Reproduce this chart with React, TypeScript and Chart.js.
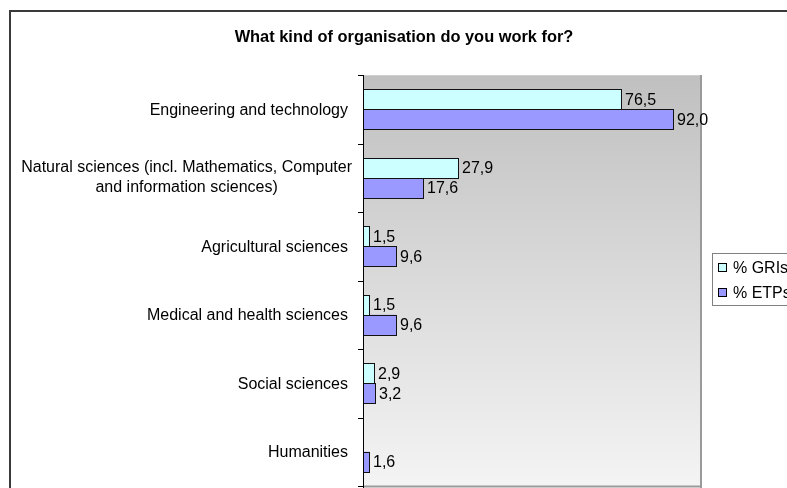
import React, { useEffect, useRef } from "react";
import { Chart, registerables } from "chart.js";

Chart.register(...registerables);

const TITLE = "What kind of organisation do you work for?";
const categories: (string | string[])[] = [
  "Engineering and technology",
  ["Natural sciences (incl. Mathematics, Computer", "and information sciences)"],
  "Agricultural sciences",
  "Medical and health sciences",
  "Social sciences",
  "Humanities",
];
const seriesNames = ["% GRIs", "% ETPs"];
const griValues = [76.5, 27.9, 1.5, 1.5, 2.9, 0];
const etpValues = [92.0, 17.6, 9.6, 9.6, 3.2, 1.6];
const seriesColors = ["#ccffff", "#9999ff"];
const xMin = 0;
const xMax = 100;

const FONT = '"Liberation Sans", Arial, sans-serif';

const decorPlugin = {
  id: "decor",
  beforeDraw(chart: any) {
    const ctx = chart.ctx;
    const { left, right, top, bottom } = chart.chartArea;
    ctx.save();
    ctx.fillStyle = "#ffffff";
    ctx.fillRect(0, 0, chart.width, chart.height);
    // outer chart border
    ctx.strokeStyle = "#3a3a3a";
    ctx.lineWidth = 2;
    ctx.strokeRect(10, 11, 1200, 1200);
    // plot gradient
    const g = ctx.createLinearGradient(0, top, 0, bottom);
    g.addColorStop(0, "#c0c0c0");
    g.addColorStop(1, "#f4f4f4");
    ctx.fillStyle = g;
    ctx.fillRect(left, top, right - left, bottom - top);
    // top border
    ctx.strokeStyle = "#cfcfcf";
    ctx.lineWidth = 1;
    ctx.beginPath();
    ctx.moveTo(left, top + 0.5);
    ctx.lineTo(right, top + 0.5);
    ctx.stroke();
    // right & bottom border
    ctx.strokeStyle = "#9a9a9a";
    ctx.lineWidth = 2;
    ctx.beginPath();
    ctx.moveTo(right + 1, top);
    ctx.lineTo(right + 1, bottom + 2);
    ctx.moveTo(left, bottom + 0.5);
    ctx.lineTo(right + 2, bottom + 0.5);
    ctx.stroke();
    ctx.restore();
  },
  afterDatasetsDraw(chart: any) {
    const ctx = chart.ctx;
    const { left, right, top, bottom } = chart.chartArea;
    const yScale = chart.scales.y;
    const n = categories.length;
    const band = (bottom - top) / n;
    ctx.save();

    // crisp bar outlines on the library's bar elements
    ctx.strokeStyle = "#111111";
    ctx.lineWidth = 1;
    chart.data.datasets.forEach((ds: any, di: number) => {
      const meta = chart.getDatasetMeta(di);
      meta.data.forEach((bar: any, i: number) => {
        const v = ds.data[i];
        if (!v) return;
        const p = bar.getProps(["x", "y", "base", "height"], true);
        const x0 = Math.round(Math.min(p.base, p.x)) - 1;
        const x1 = Math.round(Math.max(p.base, p.x));
        const y0 = Math.round(p.y - p.height / 2);
        const y1 = Math.round(p.y + p.height / 2);
        ctx.fillStyle = ds.backgroundColor;
        ctx.fillRect(x0, y0, x1 - x0, y1 - y0);
        ctx.strokeRect(x0 + 0.5, y0 + 0.5, x1 - x0, y1 - y0);
      });
    });

    // axis line and ticks
    ctx.strokeStyle = "#000000";
    ctx.lineWidth = 1;
    ctx.beginPath();
    ctx.moveTo(left - 0.5, top);
    ctx.lineTo(left - 0.5, bottom + 2);
    for (let k = 0; k <= n; k++) {
      const y = Math.round(top + k * band) + 0.5;
      ctx.moveTo(left - 6, y);
      ctx.lineTo(left - 0.5, y);
    }
    ctx.stroke();

    // category labels
    ctx.fillStyle = "#000000";
    ctx.font = "16px " + FONT;
    ctx.textBaseline = "middle";
    categories.forEach((c, i) => {
      const cy = yScale.getPixelForValue(i);
      if (Array.isArray(c)) {
        const lh = 20;
        const widths = c.map((s) => ctx.measureText(s).width);
        const w = Math.max(...widths);
        const cx = 352 - w / 2;
        ctx.textAlign = "center";
        c.forEach((s, j) => {
          ctx.fillText(s, cx, cy + (j - (c.length - 1) / 2) * lh);
        });
      } else {
        ctx.textAlign = "right";
        ctx.fillText(c, 348, cy + 1);
      }
    });

    // data labels
    ctx.textAlign = "left";
    chart.data.datasets.forEach((ds: any, di: number) => {
      const meta = chart.getDatasetMeta(di);
      meta.data.forEach((bar: any, i: number) => {
        const v = ds.data[i];
        if (!v) return;
        const txt = v.toFixed(1).replace(".", ",");
        ctx.fillText(txt, Math.round(bar.x) + 4, bar.y + 1);
      });
    });

    // title
    ctx.font = "bold 16.4px " + FONT;
    ctx.textAlign = "center";
    ctx.fillText(TITLE, 404, 37.5);

    // legend
    const lx = 712.5;
    const ly = 253.5;
    ctx.fillStyle = "#ffffff";
    ctx.fillRect(lx, ly, 200, 52);
    ctx.strokeStyle = "#808080";
    ctx.lineWidth = 1;
    ctx.strokeRect(lx, ly, 200, 52);
    ctx.font = "16px " + FONT;
    ctx.textAlign = "left";
    seriesNames.forEach((name, i) => {
      const cy = 268 + i * 25;
      ctx.fillStyle = seriesColors[i];
      ctx.fillRect(718.5, cy - 4.5, 8, 8);
      ctx.strokeStyle = "#000000";
      ctx.strokeRect(718.5, cy - 4.5, 8, 8);
      ctx.fillStyle = "#000000";
      ctx.fillText(name, 733, cy + 1);
    });
    ctx.restore();
  },
};

export default function App() {
  const ref = useRef<HTMLCanvasElement | null>(null);
  useEffect(() => {
    if (!ref.current) return;
    const chart = new Chart(ref.current, {
      type: "bar",
      data: {
        labels: categories.map((c) => (Array.isArray(c) ? c.join(" ") : c)),
        datasets: [
          {
            label: seriesNames[0],
            data: griValues,
            backgroundColor: seriesColors[0],
            borderWidth: 0,
            categoryPercentage: 0.577,
            barPercentage: 1,
          },
          {
            label: seriesNames[1],
            data: etpValues,
            backgroundColor: seriesColors[1],
            borderWidth: 0,
            categoryPercentage: 0.577,
            barPercentage: 1,
          },
        ],
      },
      options: {
        indexAxis: "y",
        responsive: false,
        devicePixelRatio: 1,
        animation: false,
        layout: { padding: { left: 364, right: 87, top: 75, bottom: 2 } },
        scales: {
          x: { display: false, min: xMin, max: xMax, grid: { display: false } },
          y: { display: false, grid: { display: false } },
        },
        plugins: {
          legend: { display: false },
          title: { display: false },
          tooltip: { enabled: false },
        },
      },
      plugins: [decorPlugin],
    } as any);
    return () => chart.destroy();
  }, []);
  return (
    <div style={{ position: "absolute", left: 0, top: 0, width: 787, height: 488 }}>
      <canvas ref={ref} width={787} height={488} style={{ display: "block" }} />
    </div>
  );
}
